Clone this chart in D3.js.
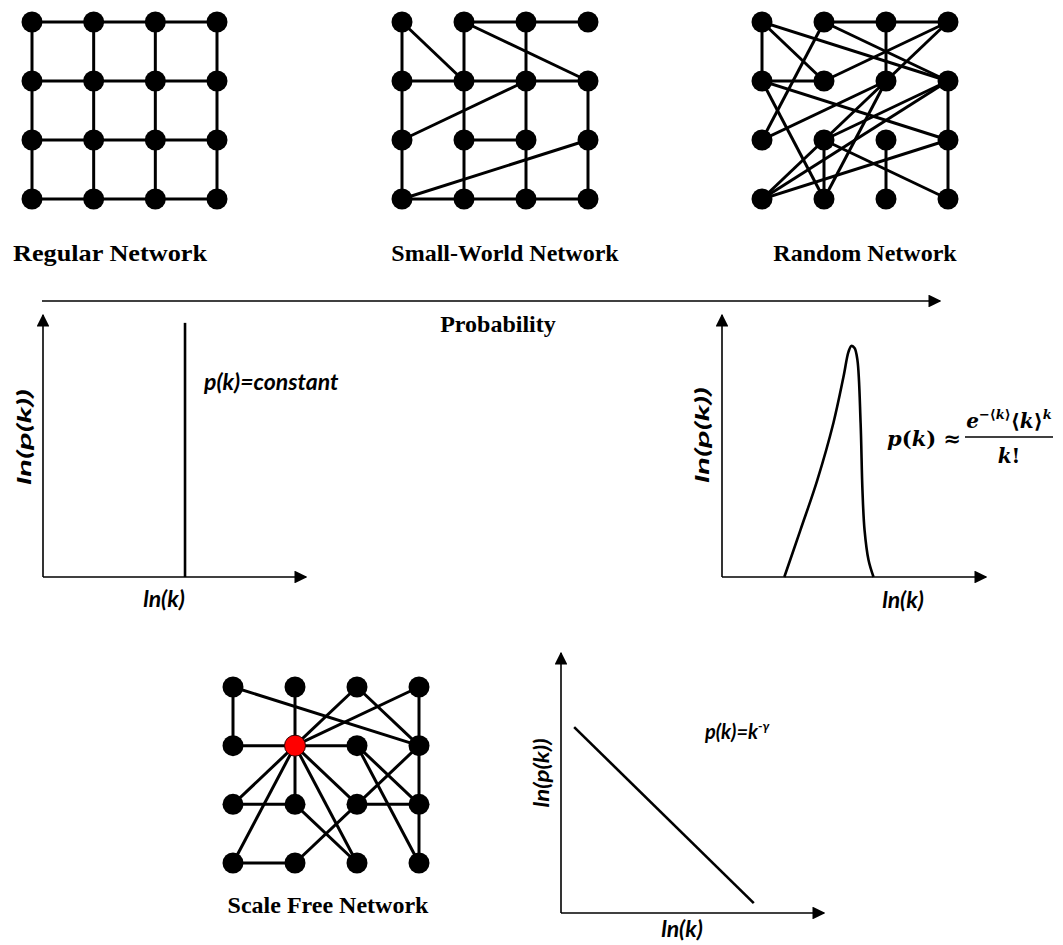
<!DOCTYPE html>
<html>
<head>
<meta charset="utf-8">
<script src="https://cdn.jsdelivr.net/npm/d3@7"></script>
<style>
  html, body { margin: 0; padding: 0; background: #fff; }
  svg { display: block; }
</style>
</head>
<body>
<svg id="chart" width="1063" height="945"></svg>
<script>
// ---------- DATA ----------
const gridCols = [0, 1, 2, 3];
const gridRows = [0, 1, 2, 3];

// edges as [col1, row1, col2, row2]
const regularEdges = [
  [0,0,1,0],[1,0,2,0],[2,0,3,0],
  [0,1,1,1],[1,1,2,1],[2,1,3,1],
  [0,2,1,2],[1,2,2,2],[2,2,3,2],
  [0,3,1,3],[1,3,2,3],[2,3,3,3],
  [0,0,0,1],[0,1,0,2],[0,2,0,3],
  [1,0,1,1],[1,1,1,2],[1,2,1,3],
  [2,0,2,1],[2,1,2,2],[2,2,2,3],
  [3,0,3,1],[3,1,3,2],[3,2,3,3]
];

const smallWorldEdges = [
  [1,0,2,0],[2,0,3,0],
  [0,0,0,1],[0,0,1,1],[1,0,1,1],[1,0,3,1],[2,0,2,1],
  [0,1,1,1],[1,1,2,1],[2,1,3,1],
  [0,1,0,2],[1,1,1,2],[2,1,2,2],[3,1,3,2],[2,1,0,2],
  [1,2,2,2],
  [0,2,0,3],[1,2,1,3],[2,2,2,3],[3,2,3,3],[3,2,0,3],
  [0,3,1,3],[1,3,2,3],[2,3,3,3]
];

const randomEdges = [
  [0,0,0,1],[0,0,1,1],[0,0,3,1],
  [1,0,2,0],[2,0,3,0],[1,0,0,2],[1,0,3,1],
  [2,0,2,1],[3,0,1,1],[3,0,2,1],
  [0,1,1,1],[0,1,3,2],[0,1,1,3],
  [2,1,0,2],[2,1,0,3],[2,1,1,3],
  [3,1,3,2],[3,1,1,2],[3,1,0,3],
  [3,2,3,3],[3,2,0,3],
  [1,2,1,3],[1,2,3,3],
  [2,2,2,3]
];

const scaleFreeHub = [1, 1];
const scaleFreeEdges = [
  [0,0,0,1],[0,0,3,1],[1,0,1,1],[2,0,1,1],[2,0,3,1],[3,0,1,1],[3,0,3,1],
  [0,1,1,1],[1,1,2,1],
  [1,1,0,2],[1,1,1,2],[1,1,0,3],[1,1,2,2],[1,1,2,3],
  [2,1,3,2],[2,1,3,3],[3,1,2,2],[3,1,3,2],
  [0,2,1,2],[2,2,3,2],[1,2,2,3],[2,2,1,3],[3,2,3,3],
  [0,3,1,3]
];

const networkTitles = ["Regular Network", "Small-World Network", "Random Network", "Scale Free Network"];
const axisTitle = "Probability";

// distributions (abstract 0..100 units)
const regularDist = [[54, 0], [54, 97]];
const randomDist = [
  [23.6, 0], [29.7, 17.9], [36.1, 37.0], [42.2, 58.8], [46.0, 76.3], [47.9, 85.9],
  [49.0, 88.2], [50.2, 87.4], [51.3, 82.8], [52.5, 58.8], [53.2, 33.2], [54.0, 17.9],
  [55.5, 6.5], [57.4, 0]
];
const scaleFreeDist = [[5.0, 71.5], [73.3, 3.8]];

const xLabel = "ln(k)";
const yLabel = "ln(p(k))";

// ---------- DRAW ----------
const svg = d3.select("#chart");
const defs = svg.append("defs");
defs.append("marker")
  .attr("id", "arrow")
  .attr("viewBox", "0 0 10 10")
  .attr("refX", 9).attr("refY", 5)
  .attr("markerWidth", 8).attr("markerHeight", 8)
  .attr("markerUnits", "strokeWidth")
  .attr("orient", "auto")
  .append("path").attr("d", "M0,0 L10,5 L0,10 Z").attr("fill", "#000");

function drawNetwork(edges, x0, x1, y0, y1, hub) {
  const x = d3.scaleLinear().domain([0, 3]).range([x0, x1]);
  const y = d3.scaleLinear().domain([0, 3]).range([y0, y1]);
  const g = svg.append("g");
  g.selectAll("line").data(edges).join("line")
    .attr("x1", d => x(d[0])).attr("y1", d => y(d[1]))
    .attr("x2", d => x(d[2])).attr("y2", d => y(d[3]))
    .attr("stroke", "#000").attr("stroke-width", 3);
  const nodes = [];
  gridRows.forEach(r => gridCols.forEach(c => nodes.push([c, r])));
  g.selectAll("circle").data(nodes).join("circle")
    .attr("cx", d => x(d[0])).attr("cy", d => y(d[1]))
    .attr("r", 10.5)
    .attr("fill", d => hub && d[0] === hub[0] && d[1] === hub[1] ? "#ff0000" : "#000")
    .attr("stroke", d => hub && d[0] === hub[0] && d[1] === hub[1] ? "#300" : "none")
    .attr("stroke-width", 1);
}

drawNetwork(regularEdges, 32, 217, 22, 199);
drawNetwork(smallWorldEdges, 402, 588, 22, 199);
drawNetwork(randomEdges, 762, 948, 22, 199);
drawNetwork(scaleFreeEdges, 233, 419, 687, 863, scaleFreeHub);

const titleFont = "'Liberation Serif', 'Times New Roman', serif";
function title(txt, cx, by, len) {
  const t = svg.append("text").attr("x", cx).attr("y", by)
    .attr("text-anchor", "middle")
    .attr("font-family", titleFont).attr("font-weight", "bold").attr("font-size", 24)
    .text(txt);
  if (len) t.attr("textLength", len).attr("lengthAdjust", "spacingAndGlyphs");
}
title(networkTitles[0], 110, 261, 194);
title(networkTitles[1], 505, 261);
title(networkTitles[2], 865, 261);
title(networkTitles[3], 328, 913);

// probability arrow
svg.append("line").attr("x1", 42).attr("y1", 301).attr("x2", 940).attr("y2", 301)
  .attr("stroke", "#000").attr("stroke-width", 1.6).attr("marker-end", "url(#arrow)");
title(axisTitle, 498, 332);

const sansFont = "Lato, 'Open Sans', sans-serif";

function drawPlot(ox, oy, w, h, data, curve, xl, yl, ySize, yStretch) {
  const x = d3.scaleLinear().domain([0, 100]).range([ox, ox + w]);
  const y = d3.scaleLinear().domain([0, 100]).range([oy, oy - h]);
  const g = svg.append("g");
  g.append("line").attr("x1", x(0)).attr("y1", y(0)).attr("x2", x(100)).attr("y2", y(0))
    .attr("stroke", "#000").attr("stroke-width", 1.6).attr("marker-end", "url(#arrow)");
  g.append("line").attr("x1", x(0)).attr("y1", y(0)).attr("x2", x(0)).attr("y2", y(100))
    .attr("stroke", "#000").attr("stroke-width", 1.6).attr("marker-end", "url(#arrow)");
  const line = d3.line().x(d => x(d[0])).y(d => y(d[1])).curve(curve);
  g.append("path").attr("d", line(data)).attr("fill", "none")
    .attr("stroke", "#000").attr("stroke-width", 2.6).attr("stroke-linejoin", "round");
  g.append("text").attr("x", xl[0]).attr("y", xl[1]).attr("text-anchor", "middle")
    .attr("font-family", sansFont).attr("font-weight", "bold").attr("font-style", "italic")
    .attr("font-size", 23).text(xLabel);
  g.append("text").attr("transform", `translate(${yl[0]},${yl[1]}) rotate(-90) scale(${yStretch},1)`)
    .attr("text-anchor", "middle")
    .attr("font-family", sansFont).attr("font-weight", "bold").attr("font-style", "italic")
    .attr("font-size", ySize).text(yLabel);
}

drawPlot(43, 577, 263, 262, regularDist, d3.curveLinear, [164, 607], [31, 437], 18, 1.85);
drawPlot(722, 577, 264, 262, randomDist, d3.curveCatmullRom, [903, 608], [709, 435], 18, 1.85);
drawPlot(561, 913, 263, 260, scaleFreeDist, d3.curveLinear, [682, 937], [549, 773], 20, 1.2);

// annotations
svg.append("text").attr("x", 204).attr("y", 390)
  .attr("font-family", sansFont).attr("font-weight", "bold").attr("font-style", "italic")
  .attr("font-size", 23).text("p(k)=constant");

const sf = svg.append("text").attr("x", 705).attr("y", 739)
  .attr("font-family", sansFont).attr("font-weight", "bold").attr("font-style", "italic")
  .attr("font-size", 20);
sf.append("tspan").text("p(k)=k");
sf.append("tspan").attr("dy", -8).attr("font-size", 13).text("-γ");

// Poisson formula
const mathFont = "'DejaVu Serif', 'Liberation Serif', serif";
const f1 = svg.append("text").attr("x", 887).attr("y", 446)
  .attr("font-family", mathFont).attr("font-weight", "bold").attr("font-size", 21);
f1.append("tspan").attr("font-style", "italic").text("p");
f1.append("tspan").text("(");
f1.append("tspan").attr("font-style", "italic").text("k");
f1.append("tspan").text(") ≈");

svg.append("line").attr("x1", 965).attr("x2", 1053).attr("y1", 437).attr("y2", 437)
  .attr("stroke", "#000").attr("stroke-width", 1.6);

const num = svg.append("text").attr("x", 1009).attr("y", 428).attr("text-anchor", "middle")
  .attr("font-family", mathFont).attr("font-weight", "bold").attr("font-size", 20);
num.append("tspan").attr("font-style", "italic").text("e");
num.append("tspan").attr("dy", -9).attr("font-size", 13).text("−⟨");
num.append("tspan").attr("font-size", 13).attr("font-style", "italic").text("k");
num.append("tspan").attr("font-size", 13).text("⟩");
num.append("tspan").attr("dy", 9).text("⟨");
num.append("tspan").attr("font-style", "italic").text("k");
num.append("tspan").text("⟩");
num.append("tspan").attr("dy", -9).attr("font-size", 13).attr("font-style", "italic").text("k");

const den = svg.append("text").attr("x", 1009).attr("y", 463).attr("text-anchor", "middle")
  .attr("font-family", mathFont).attr("font-weight", "bold").attr("font-size", 20);
den.append("tspan").attr("font-style", "italic").text("k");
den.append("tspan").text("!");
</script>
</body>
</html>
